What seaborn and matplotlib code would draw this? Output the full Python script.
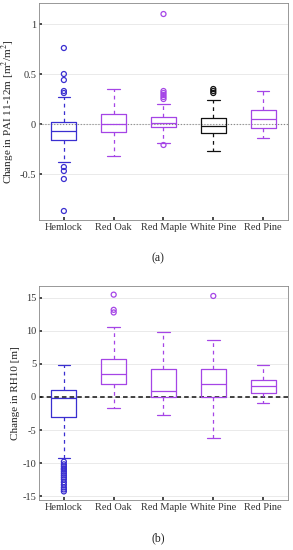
import numpy as np
import pandas as pd
import matplotlib
matplotlib.use("Agg")
import matplotlib.pyplot as plt
import seaborn as sns

species = ["Hemlock", "Red Oak", "Red Maple", "White Pine", "Red Pine"]

# Panel (a): change in PAI 11-12 m, five-number summaries
pai_lower_whisker = [-0.38, -0.32, -0.19, -0.27, -0.14]
pai_q1 = [-0.16, -0.08, -0.03, -0.09, -0.04]
pai_median = [-0.07, 0.00, 0.01, -0.02, 0.05]
pai_q3 = [0.02, 0.10, 0.07, 0.06, 0.14]
pai_upper_whisker = [0.27, 0.35, 0.20, 0.24, 0.33]
pai_outliers_hemlock = [0.76, 0.50, 0.44, 0.33, 0.31, -0.43, -0.47, -0.55, -0.87]
pai_outliers_red_oak = []
pai_outliers_red_maple = [1.10, 0.33, 0.31, 0.29, 0.27, 0.25, -0.21]
pai_outliers_white_pine = [0.35, 0.33, 0.31]
pai_outliers_red_pine = []

# Panel (b): change in RH10, five-number summaries
rh_lower_whisker = [-9.3, -1.6, -2.7, -6.2, -0.9]
rh_q1 = [-3.1, 2.0, 0.0, 0.0, 0.65]
rh_median = [-0.1, 3.5, 0.9, 1.9, 1.6]
rh_q3 = [1.0, 5.8, 4.2, 4.3, 2.5]
rh_upper_whisker = [4.9, 10.6, 9.8, 8.7, 4.8]
rh_outliers_hemlock = [-9.8, -10.2, -10.5, -10.8, -11.0, -11.3, -11.6, -11.9,
                       -12.2, -12.5, -12.9, -13.3, -13.7, -14.0, -14.3]
rh_outliers_red_oak = [15.5, 13.2, 12.8]
rh_outliers_red_maple = []
rh_outliers_white_pine = [15.3]
rh_outliers_red_pine = []

BLUE = "#3a2fd0"
PURPLE = "#a545e6"
pal_a = {"Hemlock": BLUE, "Red Oak": PURPLE, "Red Maple": PURPLE,
         "White Pine": "#111111", "Red Pine": PURPLE}
pal_b = {"Hemlock": BLUE, "Red Oak": PURPLE, "Red Maple": PURPLE,
         "White Pine": PURPLE, "Red Pine": PURPLE}


def summary_frame(lw, q1, med, q3, uw):
    rows = []
    for i, s in enumerate(species):
        for v in (lw[i], q1[i], med[i], q3[i], uw[i]):
            rows.append({"species": s, "value": v})
    return pd.DataFrame(rows)


def outlier_frame(lists):
    rows = []
    for s, vals in zip(species, lists):
        for v in vals:
            rows.append({"species": s, "value": v})
    return pd.DataFrame(rows)


sns.set_theme(style="whitegrid")
plt.rcParams["font.family"] = ["Liberation Serif", "DejaVu Serif"]
plt.rcParams["mathtext.fontset"] = "stix"

fig = plt.figure(figsize=(2.93, 5.5), dpi=100)
ax1 = fig.add_axes([0.133, 0.600, 0.850, 0.3945])
ax2 = fig.add_axes([0.133, 0.0909, 0.850, 0.389])


def draw(ax, df, out, pal, ylim, yticks, ytlabels, ylabel, zero_style):
    ax.axhline(0, **zero_style, zorder=1)
    sns.boxplot(data=df, x="species", y="value", hue="species", order=species,
                hue_order=species, palette=pal, fill=False, whis=(0, 100),
                showfliers=False, width=0.5, linewidth=0.9, legend=False,
                whiskerprops={"linestyle": (0, (3, 3))}, ax=ax)
    if len(out):
        sns.stripplot(data=out, x="species", y="value", hue="species",
                      order=species, hue_order=species, palette=pal,
                      jitter=False, size=3.6, legend=False, ax=ax, zorder=5)
    for coll in ax.collections:
        fc = coll.get_facecolors()
        if len(fc):
            coll.set_edgecolors(fc)
            coll.set_facecolors("none")
            coll.set_linewidth(0.9)
    ax.set_xlim(-0.5, 4.5)
    ax.set_ylim(*ylim)
    ax.set_yticks(yticks)
    ax.set_yticklabels(ytlabels)
    ax.set_xlabel("")
    ax.set_ylabel(ylabel, fontsize=8, color="#222222", labelpad=2)
    ax.grid(axis="x", visible=False)
    ax.grid(axis="y", color="#e6e6e6", linewidth=0.6)
    ax.tick_params(axis="both", labelsize=7.5, colors="#333333", pad=2,
                   length=2, direction="in", left=True, bottom=True)
    for sp in ax.spines.values():
        sp.set_color("#888888")
        sp.set_linewidth(0.6)


df_a = summary_frame(pai_lower_whisker, pai_q1, pai_median, pai_q3, pai_upper_whisker)
out_a = outlier_frame([pai_outliers_hemlock, pai_outliers_red_oak, pai_outliers_red_maple,
                       pai_outliers_white_pine, pai_outliers_red_pine])
draw(ax1, df_a, out_a, pal_a, (-0.96, 1.21), [-0.5, 0, 0.5, 1],
     ["-0.5", "0", "0.5", "1"], "Change in PAI 11-12m [m$^2$/m$^2$]",
     dict(color="#888888", linestyle=":", linewidth=0.8))

df_b = summary_frame(rh_lower_whisker, rh_q1, rh_median, rh_q3, rh_upper_whisker)
out_b = outlier_frame([rh_outliers_hemlock, rh_outliers_red_oak, rh_outliers_red_maple,
                       rh_outliers_white_pine, rh_outliers_red_pine])
draw(ax2, df_b, out_b, pal_b, (-15.6, 16.8), [-15, -10, -5, 0, 5, 10, 15],
     ["-15", "-10", "-5", "0", "5", "10", "15"], "Change in RH10 [m]",
     dict(color="#111111", linestyle=(0, (3, 2)), linewidth=1.1))

fig.text(0.54, 1 - 258 / 550, "(a)", ha="center", va="center", fontsize=8.5, color="#222222")
fig.text(0.54, 1 - 538 / 550, "(b)", ha="center", va="center", fontsize=8.5, color="#222222")

fig.savefig("out.png", dpi=100)
